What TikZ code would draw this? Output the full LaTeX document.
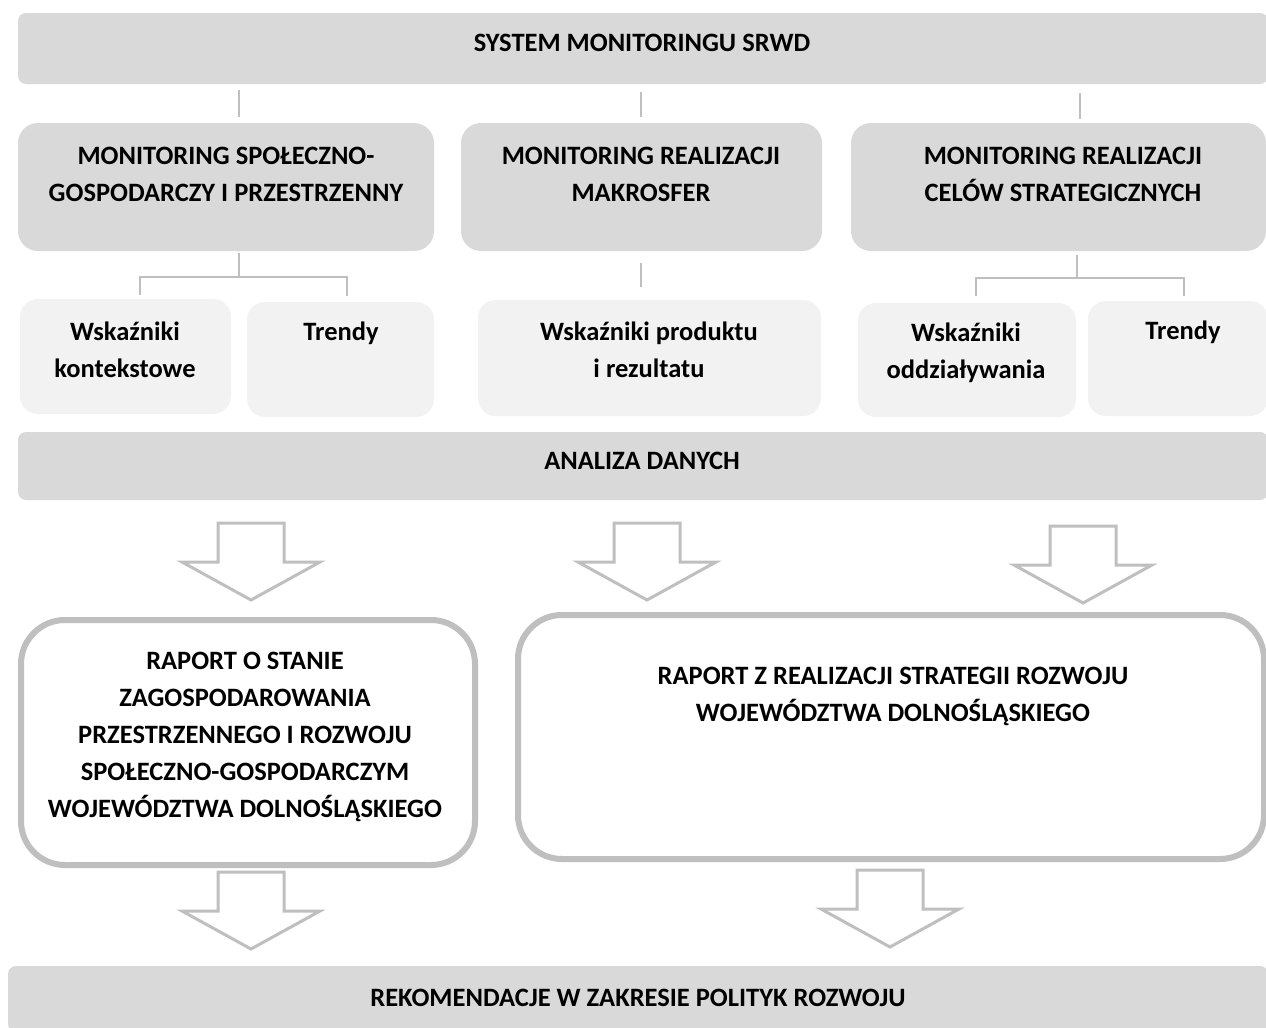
\documentclass[tikz,border=0pt]{standalone}
\usepackage{fontspec}
\setmainfont{Carlito}
\usetikzlibrary{calc}
\definecolor{barc}{HTML}{D9D9D9}
\definecolor{subc}{HTML}{F2F2F2}
\definecolor{linec}{HTML}{BFBFBF}
\tikzset{
  bar/.style={fill=barc, rounded corners=4pt, inner sep=0pt},
  midbox/.style={fill=barc, rounded corners=10pt, inner sep=0pt},
  subbox/.style={fill=subc, rounded corners=9pt, inner sep=0pt},
  report/.style={draw=linec, line width=3pt, fill=white, rounded corners=22pt, inner sep=0pt},
  conn/.style={draw=linec, line width=1pt},
  lbl/.style={font=\bfseries\fontsize{13.25}{18.5}\selectfont, align=center, inner sep=0pt},
  blockarrow/.pic={\draw[draw=linec, line width=1.5pt, fill=white, line join=miter]
    (-33,-77) -- (33,-77) -- (33,-38) -- (69,-38) -- (0,0) -- (-69,-38) -- (-33,-38) -- cycle;}
}
\begin{document}
\begin{tikzpicture}[x=0.5pt,y=-0.5pt]
\useasboundingbox (0,0) rectangle (1266,1028);
\clip (0,0) rectangle (1266,1028);
\fill[white] (0,0) rectangle (1266,1028);

% bars and boxes
\node[bar, minimum width=625pt, minimum height=35.5pt] (top) at (643,48.5) {};
\node[midbox, minimum width=208pt, minimum height=64pt] (A) at (226,187) {};
\node[midbox, minimum width=180.5pt, minimum height=64pt] (B) at (641.5,187) {};
\node[midbox, minimum width=207.5pt, minimum height=64pt] (C) at (1058.5,187) {};
\node[subbox, minimum width=105.5pt, minimum height=57.5pt] (S1) at (125.5,356.5) {};
\node[subbox, minimum width=93.5pt, minimum height=57.5pt] (S2) at (340.5,359.5) {};
\node[subbox, minimum width=171.5pt, minimum height=58pt] (S3) at (649.5,358) {};
\node[subbox, minimum width=109pt, minimum height=57pt] (S4) at (967,360) {};
\node[subbox, minimum width=90pt, minimum height=57.5pt] (S5) at (1178,358.5) {};
\node[bar, minimum width=625pt, minimum height=34pt] (an) at (643,466) {};
\node[report, minimum width=227pt, minimum height=122.5pt] (R1) at (248,742.5) {};
\node[report, minimum width=373pt, minimum height=122pt] (R2) at (891,737) {};
\node[bar, minimum width=630pt, minimum height=33pt] (rek) at (638,999) {};

% texts
\node[lbl] (tTop) at (642,43) {SYSTEM MONITORINGU SRWD};
\node[lbl] (tA) at (226,174) {MONITORING SPOŁECZNO-\\GOSPODARCZY I PRZESTRZENNY};
\node[lbl] (tB) at (641,174) {MONITORING REALIZACJI\\MAKROSFER};
\node[lbl] (tC) at (1063,174) {MONITORING REALIZACJI\\CELÓW STRATEGICZNYCH};
\node[lbl] (tS1) at (125,350) {Wskaźniki\\kontekstowe};
\node[lbl] (tS2) at (341,333) {Trendy};
\node[lbl] (tS3) at (649,350) {Wskaźniki produktu\\i rezultatu};
\node[lbl] (tS4) at (966,353) {Wskaźniki\\oddziaływania};
\node[lbl] (tS5) at (1183,332) {Trendy};
\node[lbl] (tAn) at (642,461) {ANALIZA DANYCH};
\node[lbl] (tR1) at (245,737) {RAPORT O STANIE\\ZAGOSPODAROWANIA\\PRZESTRZENNEGO I ROZWOJU\\SPOŁECZNO-GOSPODARCZYM\\WOJEWÓDZTWA DOLNOŚLĄSKIEGO};
\node[lbl] (tR2) at (893,696) {RAPORT Z REALIZACJI STRATEGII ROZWOJU\\WOJEWÓDZTWA DOLNOŚLĄSKIEGO};
\node[lbl] (tRek) at (638,998) {REKOMENDACJE W ZAKRESIE POLITYK ROZWOJU};

% connectors
\draw[conn] ($(A.north |- top.south)+(13,6)$) -- ($(A.north)+(13,-6)$);
\draw[conn] ($(B.north |- top.south)+(-1,8)$) -- ($(B.north)+(-1,-6)$);
\draw[conn] ($(C.north |- top.south)+(21.5,9)$) -- ($(C.north)+(21.5,-4)$);

\draw[conn] ($(A.south)+(13,2)$) -- ($(A.south)+(13,26)$);
\draw[conn] ($(S1.north)+(14.5,-4)$) |- ($(A.south)+(13,26)$) -| ($(S2.north)+(6.5,-6)$);

\draw[conn] ($(B.south)+(-1,12)$) -- ($(S3.north -| B.south)+(-1,-13)$);

\draw[conn] ($(C.south)+(18.5,4)$) -- ($(C.south)+(18.5,27)$);
\draw[conn] ($(S4.north)+(9,-7)$) |- ($(C.south)+(18.5,27)$) -| ($(S5.north)+(6,-5)$);

% block arrows
\pic at (251,600) {blockarrow};
\pic at (647,600) {blockarrow};
\pic at (1083,603) {blockarrow};
\pic at (251,949) {blockarrow};
\pic at (890,947) {blockarrow};
\end{tikzpicture}
\end{document}
